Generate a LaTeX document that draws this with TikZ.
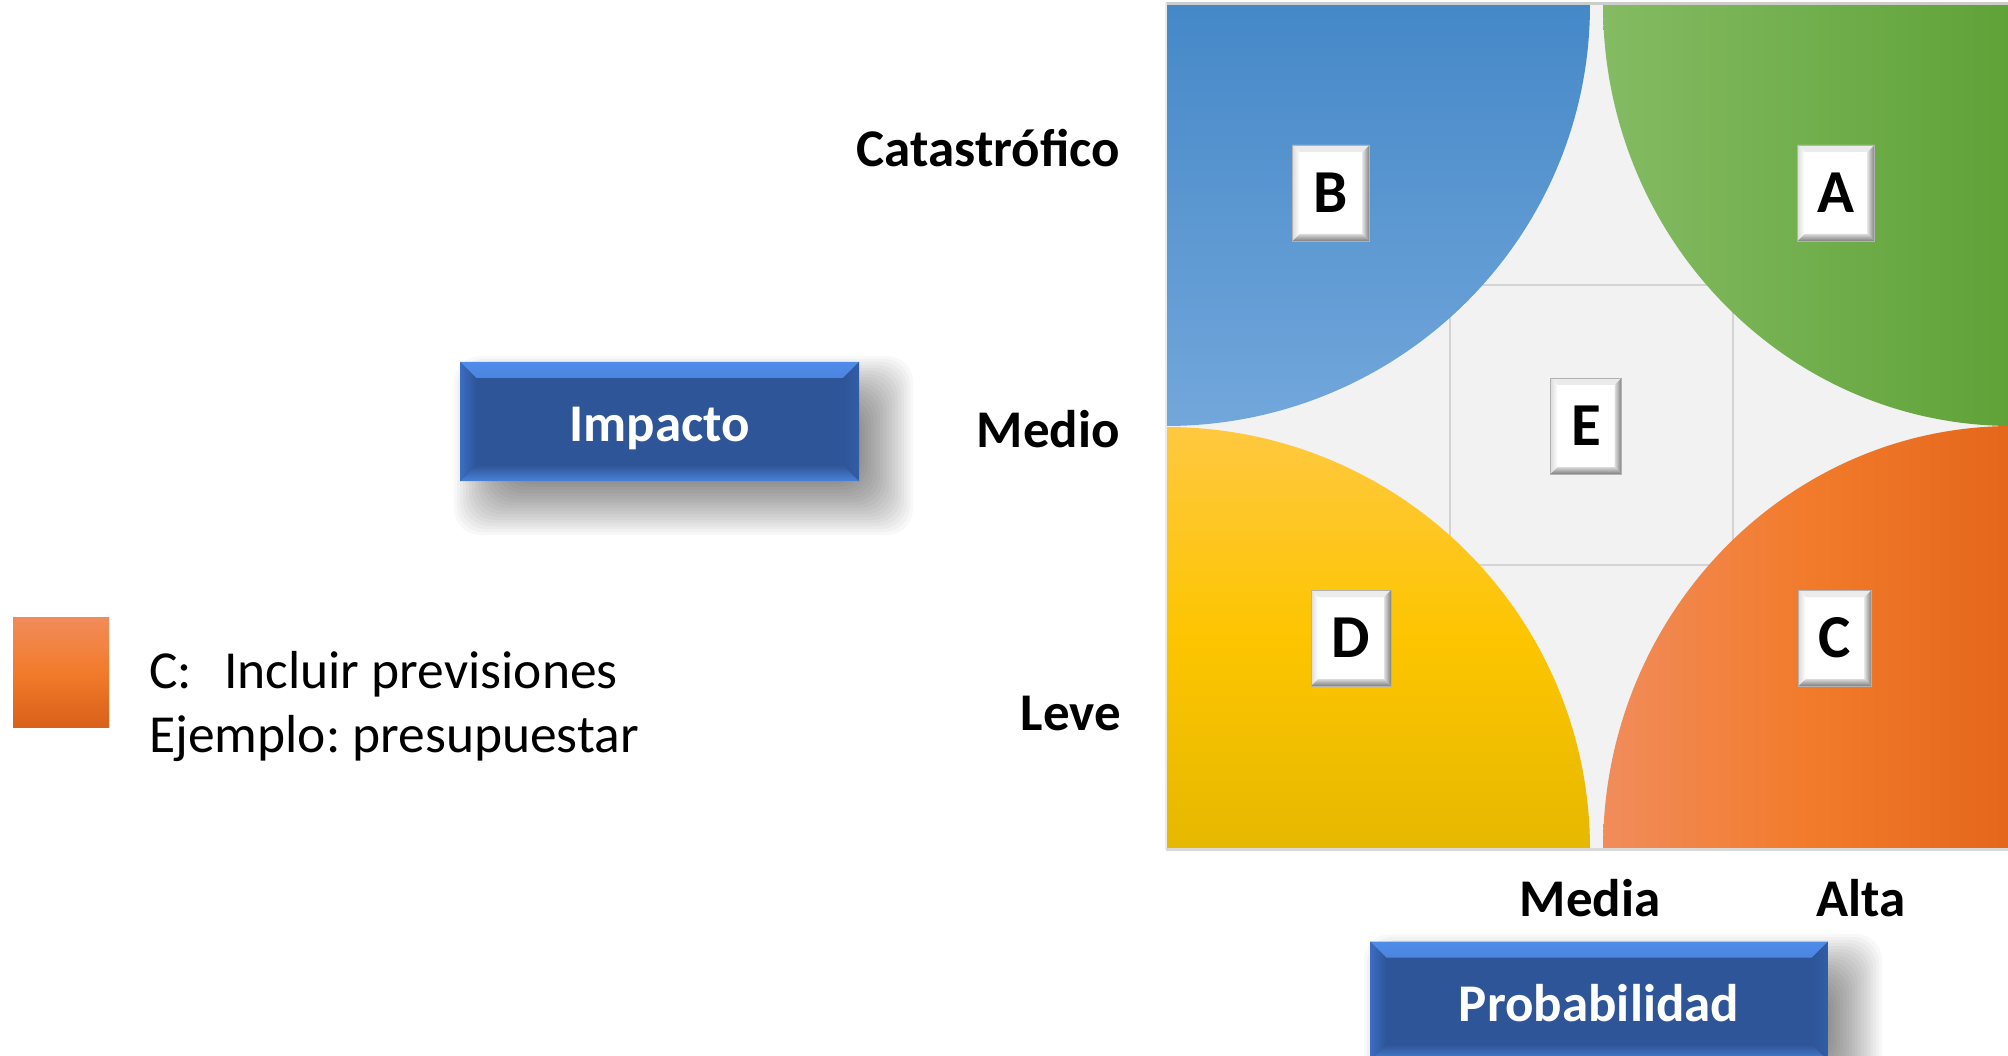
\documentclass[tikz,border=0pt]{standalone}
\usepackage{fontspec}
\setmainfont{Carlito}
\frenchspacing
\usetikzlibrary{calc}
\definecolor{gridbg}{HTML}{F2F2F2}
\definecolor{gridln}{HTML}{D4D4D4}
\definecolor{bTop}{HTML}{4588C8}
\definecolor{bBot}{HTML}{72A7DB}
\definecolor{aLeft}{HTML}{84BB63}
\definecolor{aRight}{HTML}{5FA237}
\definecolor{dTop}{HTML}{FFC840}
\definecolor{dMid}{HTML}{FDC500}
\definecolor{dBot}{HTML}{E6B800}
\definecolor{cLeft}{HTML}{F18C5B}
\definecolor{cMid}{HTML}{F27B2B}
\definecolor{cRight}{HTML}{E4661B}
\definecolor{boxface}{HTML}{2E5597}
\definecolor{bevlight}{HTML}{4F8CEA}
\definecolor{bevside}{HTML}{3B6DC4}
\newcommand\mysoftshadow[4]{%
  \foreach \i in {0,...,19}
    \fill[black, opacity=0.026, rounded corners=26pt]
      ({#1+24-30+3*\i},{#2+24-30+3*\i}) rectangle ({#3+24+30-3*\i},{#4+24+30-3*\i});
}
\begin{document}
\begin{tikzpicture}[x=1pt,y=-1pt,
  axislbl/.style={font=\bfseries\fontsize{53}{63}\selectfont, text=black, inner sep=0},
  axisbox/.style={fill=boxface, text=white, inner sep=0, text height=40pt, text depth=0pt,
    font=\bfseries\fontsize{53}{63}\selectfont,
    path picture={
      \shade[top color=bevlight, bottom color=boxface]
        (path picture bounding box.north west) -- (path picture bounding box.north east)
        -- ([xshift=-16pt,yshift=-16pt]path picture bounding box.north east)
        -- ([xshift=16pt,yshift=-16pt]path picture bounding box.north west) -- cycle;
      \shade[top color=boxface, bottom color=bevlight!92!black]
        (path picture bounding box.south west) -- (path picture bounding box.south east)
        -- ([xshift=-16pt,yshift=16pt]path picture bounding box.south east)
        -- ([xshift=16pt,yshift=16pt]path picture bounding box.south west) -- cycle;
      \shade[left color=bevside, right color=boxface]
        (path picture bounding box.north west) -- ([xshift=16pt,yshift=-16pt]path picture bounding box.north west)
        -- ([xshift=16pt,yshift=16pt]path picture bounding box.south west)
        -- (path picture bounding box.south west) -- cycle;
      \shade[left color=boxface, right color=bevside!85!black]
        (path picture bounding box.north east) -- ([xshift=-16pt,yshift=-16pt]path picture bounding box.north east)
        -- ([xshift=-16pt,yshift=16pt]path picture bounding box.south east)
        -- (path picture bounding box.south east) -- cycle;
    }},
  letterbox/.style={fill=white, draw=black!30, line width=0.8pt, inner sep=0,
    minimum height=96pt, font=\bfseries\fontsize{61}{72}\selectfont,
    path picture={
      \fill[black!8]
        (path picture bounding box.north west) -- (path picture bounding box.north east)
        -- ([xshift=-7pt,yshift=-7pt]path picture bounding box.north east)
        -- ([xshift=7pt,yshift=-7pt]path picture bounding box.north west) -- cycle;
      \shade[left color=black!14, right color=white]
        (path picture bounding box.north west) -- ([xshift=7pt,yshift=-7pt]path picture bounding box.north west)
        -- ([xshift=7pt,yshift=7pt]path picture bounding box.south west)
        -- (path picture bounding box.south west) -- cycle;
      \shade[left color=black!12, right color=black!50]
        (path picture bounding box.north east) -- ([xshift=-7pt,yshift=-7pt]path picture bounding box.north east)
        -- ([xshift=-7pt,yshift=7pt]path picture bounding box.south east)
        -- (path picture bounding box.south east) -- cycle;
      \shade[top color=black!15, bottom color=black!50]
        (path picture bounding box.south west) -- (path picture bounding box.south east)
        -- ([xshift=-7pt,yshift=7pt]path picture bounding box.south east)
        -- ([xshift=7pt,yshift=7pt]path picture bounding box.south west) -- cycle;
    }},
  legtext/.style={font=\fontsize{53.5}{64}\selectfont, text=black, inner sep=0, anchor=base west}
]
\useasboundingbox (0,0) rectangle (2008,1056);
\fill[white] (0,0) rectangle (2008,1056);

% matrix background and grid
\fill[gridbg] (1166,4) rectangle (2008,849);
\foreach \gx in {1450,1733} \draw[gridln, line width=2pt] (\gx,4) -- (\gx,849);
\foreach \gy in {285,565} \draw[gridln, line width=2pt] (1166,\gy) -- (2008,\gy);

% quadrants
\shade[top color=bTop, bottom color=bBot]
  (1166,5) -- (1590,5) arc[start angle=0, end angle=90, x radius=424, y radius=421] -- cycle;
\shade[left color=aLeft, right color=aRight]
  (2012,5) -- (1603,5) arc[start angle=180, end angle=90, x radius=409, y radius=421] -- cycle;
\shade[top color=dTop, bottom color=dBot, middle color=dMid]
  (1166,849) -- (1166,427) arc[start angle=-90, end angle=0, x radius=424, y radius=422] -- cycle;
\shade[left color=cLeft, right color=cRight, middle color=cMid]
  (2012,849) -- (1603,849) arc[start angle=180, end angle=270, x radius=409, y radius=423] -- cycle;

% border
\draw[black!20, line width=2.5pt] (2008,3.5) -- (1166,3.5);
\draw[black!8, line width=2pt] (1166,3.5) -- (1166,849);
\draw[black!15, line width=2.5pt] (1166,849.5) -- (2008,849.5);

% letter boxes
\node[letterbox, minimum width=77pt] (lB) at (1331,193) {B};
\node[letterbox, minimum width=77pt] (lA) at (1836,193) {A};
\node[letterbox, minimum width=71pt] (lE) at (1586,426) {E};
\node[letterbox, minimum width=80pt] (lD) at (1351,638) {D};
\node[letterbox, minimum width=73pt] (lC) at (1835,638) {C};

% axis labels
\node[axislbl, anchor=base east] (catas) at (1120,167) {Catastrófico};
\node[axislbl, anchor=base east] (medio) at (1120,447) {Medio};
\node[axislbl, anchor=base east] (leve) at (1121,730) {Leve};
\node[axislbl, anchor=base] (media) at (1590,916) {Media};
\node[axislbl, anchor=base] (alta) at (1861,916) {Alta};

% axis title boxes with soft shadows
\mysoftshadow{460}{362}{859}{481}
\mysoftshadow{1370}{940}{1828}{1059}
\node[axisbox, minimum width=399pt, minimum height=119pt] (impacto) at (659.5,421.5) {Impacto};
\node[axisbox, minimum width=458pt, minimum height=119pt] (prob) at (1599,1001) {Probabilidad};

% legend
\node[inner sep=0, minimum width=96pt, minimum height=110pt,
  top color=cLeft, bottom color=cRight!95!black, middle color=cMid] (legsq) at (61,672) {};
\node[legtext] (leg1) at (149,688) {\makebox[75pt][l]{C:}Incluir previsiones};
\node[legtext] (leg2) at (149,752) {Ejemplo: presupuestar};
\end{tikzpicture}
\end{document}
